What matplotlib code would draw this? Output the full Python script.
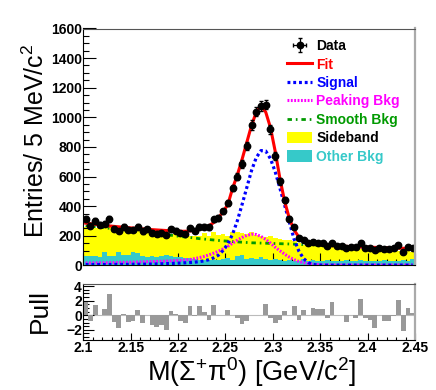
import numpy as np
import matplotlib
matplotlib.use('Agg')
import matplotlib.pyplot as plt
from matplotlib.lines import Line2D
from matplotlib.patches import Patch
from matplotlib.ticker import MultipleLocator

plt.rcParams['font.family'] = ['Liberation Sans', 'DejaVu Sans']
plt.rcParams['mathtext.fontset'] = 'custom'
plt.rcParams['mathtext.rm'] = 'Liberation Sans'
plt.rcParams['mathtext.it'] = 'Liberation Sans:italic'
plt.rcParams['mathtext.bf'] = 'Liberation Sans:bold'

# ---------------- data ----------------
x_min, x_max, n_bins = 2.10, 2.45, 70

data_counts = [315, 268, 300, 273, 282, 313, 248, 233, 260, 240,
               239, 260, 230, 246, 221, 214, 217, 204, 242, 234,
               218, 213, 252, 234, 262, 260, 257, 312, 320, 364,
               424, 522, 600, 683, 807, 948, 1038, 1078, 1086, 918,
               739, 568, 442, 315, 258, 182, 172, 152, 158, 152,
               149, 130, 154, 131, 129, 118, 126, 121, 150, 119,
               115, 101, 120, 110, 109, 116, 139, 91, 125, 116]

fit_curve = [285, 281, 277, 273, 269, 266, 263, 260, 257, 254,
             252, 249, 246, 244, 241, 239, 237, 235, 233, 231,
             230, 230, 232, 236, 242, 252, 267, 288, 320, 362,
             410, 520, 610, 715, 830, 945, 1035, 1078, 1035, 930,
             770, 585, 430, 315, 238, 190, 163, 152, 146, 141,
             138, 135, 133, 131, 129, 128, 126, 125, 124, 123,
             122, 121, 120, 119, 118, 117, 116, 115, 114, 113]

signal_curve = [5, 5, 5, 5, 5, 5, 6, 6, 6, 6,
                7, 7, 7, 8, 8, 9, 10, 11, 12, 14,
                15, 17, 19, 21, 25, 30, 38, 50, 68, 100,
                145, 210, 300, 410, 525, 640, 728, 775, 772, 720,
                632, 520, 405, 290, 175, 95, 45, 18, 6, 2,
                1, 1, 1, 1, 1, 1, 1, 1, 1, 1,
                1, 1, 1, 1, 1, 1, 1, 1, 1, 1]

peaking_curve = [15, 16, 16, 17, 17, 18, 18, 19, 20, 20,
                 21, 22, 23, 24, 25, 26, 27, 28, 30, 32,
                 34, 36, 39, 45, 52, 60, 70, 82, 95, 110,
                 128, 150, 170, 188, 202, 210, 208, 195, 175, 150,
                 122, 98, 75, 55, 38, 26, 18, 12, 8, 5,
                 3, 2, 2, 2, 2, 2, 2, 2, 2, 2,
                 2, 2, 2, 2, 2, 2, 2, 2, 2, 2]

smooth_curve = [268, 264, 261, 257, 254, 250, 247, 244, 240, 237,
                234, 230, 227, 223, 219, 215, 211, 207, 203, 199,
                195, 191, 188, 184, 180, 177, 174, 171, 168, 165,
                163, 160, 158, 156, 154, 152, 151, 150, 149, 148,
                147, 146, 145, 144, 143, 141, 140, 138, 137, 136,
                134, 133, 132, 130, 129, 128, 127, 125, 124, 123,
                122, 121, 119, 118, 117, 116, 115, 114, 113, 112]

sideband_hist = [262, 268, 255, 260, 250, 256, 244, 248, 238, 242,
                 232, 236, 225, 230, 218, 222, 212, 215, 206, 210,
                 200, 205, 196, 200, 195, 215, 200, 222, 205, 212,
                 198, 225, 228, 218, 210, 225, 205, 200, 192, 196,
                 185, 175, 170, 172, 165, 150, 140, 135, 138, 130,
                 128, 122, 125, 118, 115, 118, 112, 114, 108, 112,
                 105, 108, 102, 106, 100, 104, 98, 102, 96, 90]

other_bkg_hist = [62, 64, 60, 58, 92, 64, 66, 92, 70, 68,
                  90, 85, 60, 58, 62, 56, 62, 70, 66, 58,
                  55, 48, 50, 45, 38, 36, 35, 38, 36, 40,
                  50, 38, 62, 68, 40, 48, 42, 55, 45, 35,
                  40, 38, 30, 35, 28, 32, 40, 30, 35, 28,
                  30, 36, 28, 32, 26, 34, 30, 28, 36, 30,
                  32, 26, 30, 38, 28, 32, 30, 35, 28, 40]

pulls = [1.8, -0.8, 1.4, 0.0, 0.8, 2.9, -0.9, -1.7, 0.2, -0.9,
         -0.8, 0.7, -1.0, 0.1, -1.3, -1.6, -1.3, -2.0, 0.6, 0.2,
         -0.8, -1.1, 1.3, -0.1, 1.3, 0.5, -0.6, 1.4, 0.0, 0.1,
         0.7, 0.1, -0.4, -1.2, -0.8, 0.1, 0.1, 0.0, 1.6, -0.4,
         -1.1, -0.7, 0.6, 0.0, 1.3, -0.6, 0.7, 0.0, 1.0, 0.9,
         0.9, -0.4, 1.8, 0.0, 0.0, -0.9, 0.0, -0.4, 2.3, -0.4,
         -0.6, -1.8, 0.0, -0.8, -0.8, -0.1, 2.1, -2.2, 1.0, 0.3]

x_ticks = [2.10, 2.15, 2.20, 2.25, 2.30, 2.35, 2.40, 2.45]
x_tick_labels = ['2.1', '2.15', '2.2', '2.25', '2.3', '2.35', '2.4', '2.45']
y_ticks = [0, 200, 400, 600, 800, 1000, 1200, 1400, 1600]
pull_ticks = [-2, 0, 2, 4]

legend_labels = ['Data', 'Fit', 'Signal', 'Peaking Bkg', 'Smooth Bkg', 'Sideband', 'Other Bkg']

# ---------------- style ----------------
c_fit = '#ff0000'
c_sig = '#0000ff'
c_peak = '#ff00ff'
c_smooth = '#009a00'
c_side = '#ffff00'
c_other = '#36c9c9'
c_pull = '#999999'

edges = np.linspace(x_min, x_max, n_bins + 1)
centers = 0.5 * (edges[:-1] + edges[1:])
data_arr = np.array(data_counts, dtype=float)

W, H = 436, 390
fig = plt.figure(figsize=(W / 100, H / 100), dpi=100)

L, R = 83.3, 415.0
ax = fig.add_axes([L / W, 1 - 265.3 / H, (R - L) / W, (265.3 - 28.5) / H])
axp = fig.add_axes([L / W, 1 - 340 / H, (R - L) / W, (340 - 284) / H])

# histograms
ax.stairs(sideband_hist, edges, fill=True, color=c_side, zorder=1)
ax.stairs(other_bkg_hist, edges, fill=True, color=c_other, zorder=2)

# curves
smooth_ls = (0, (1.6, 1.4, 0.6, 1.4))
ax.plot(centers, smooth_curve, color=c_smooth, lw=2.0,
        linestyle=smooth_ls, zorder=3)
ax.plot(centers, peaking_curve, color=c_peak, lw=2.2,
        linestyle=(0, (0.6, 0.5)), zorder=3)
ax.plot(centers, signal_curve, color=c_sig, lw=2.3,
        linestyle=(0, (0.9, 0.9)), zorder=4)
ax.plot(centers, fit_curve, color=c_fit, lw=2.2, zorder=5)

# data
eb = ax.errorbar(centers, data_arr, yerr=np.sqrt(data_arr), xerr=0,
                 fmt='o', color='black', ms=4.6, lw=0.9, capsize=1.2,
                 zorder=6)

ax.set_xlim(x_min, x_max)
ax.set_ylim(0, 1600)
ax.set_yticks(y_ticks)
ax.yaxis.set_minor_locator(MultipleLocator(50))
ax.set_xticks(x_ticks)
ax.xaxis.set_minor_locator(MultipleLocator(0.01))
ax.tick_params(axis='x', labelbottom=False)
for a in (ax, axp):
    a.tick_params(which='both', direction='in', top=False, right=False, width=0.8)
    a.tick_params(which='major', length=9)
    a.tick_params(which='minor', length=4.5)
ax.tick_params(axis='y', labelsize=10, pad=1)
for lab in ax.get_yticklabels():
    lab.set_fontweight('bold')

for a in (ax, axp):
    a.spines['left'].set_color('black')
    a.spines['bottom'].set_color('black')
    a.spines['top'].set_color('#555555')
    a.spines['right'].set_color('#aaaaaa')
    a.spines['right'].set_linewidth(1.6)
    for s in a.spines.values():
        s.set_zorder(10)

# legend
handles = [
    eb,
    Line2D([], [], color=c_fit, lw=2.2),
    Line2D([], [], color=c_sig, lw=2.3, linestyle=(0, (0.9, 0.9))),
    Line2D([], [], color=c_peak, lw=2.2, linestyle=(0, (0.6, 0.5))),
    Line2D([], [], color=c_smooth, lw=2.0, linestyle=smooth_ls),
    Patch(facecolor=c_side, edgecolor='none'),
    Patch(facecolor=c_other, edgecolor='none'),
]
label_colors = ['black', c_fit, c_sig, c_peak, c_smooth, 'black', c_other]
leg = ax.legend(handles, legend_labels, loc='upper left',
                bbox_to_anchor=((287 - L) / (R - L), 0.955),
                frameon=False, borderpad=0, borderaxespad=0,
                handlelength=1.8, handleheight=0.9, handletextpad=0.3,
                labelspacing=0.32,
                prop={'weight': 'bold', 'size': 10},
                labelcolor=label_colors)

# pull panel
axp.stairs(pulls, edges, fill=True, color=c_pull, baseline=0, zorder=2)
axp.axhline(0, color='#bbbbbb', lw=0.8, zorder=1)
axp.set_xlim(x_min, x_max)
axp.set_ylim(-3.4, 4.3)
axp.set_yticks(pull_ticks)
axp.yaxis.set_minor_locator(MultipleLocator(0.5))
axp.set_xticks(x_ticks)
axp.set_xticklabels(x_tick_labels)
axp.xaxis.set_minor_locator(MultipleLocator(0.01))
axp.tick_params(which='major', length=5)
axp.tick_params(which='minor', length=2.5)
axp.tick_params(axis='y', which='major', length=8)
axp.tick_params(axis='y', which='minor', length=4)
axp.tick_params(axis='both', labelsize=10, pad=1)
for lab in axp.get_yticklabels() + axp.get_xticklabels():
    lab.set_fontweight('bold')

# axis titles
fig.text(36 / W, 1 - 141 / H, 'Entries/ 5 MeV/c$^{2}$', rotation=90,
         ha='center', va='center', fontsize=18)
fig.text(40 / W, 1 - 311 / H, 'Pull', rotation=90,
         ha='center', va='center', fontsize=19)
fig.text(252 / W, 1 - 372 / H, 'M(Σ$^{+}$π$^{0}$) [GeV/c$^{2}$]',
         ha='center', va='center', fontsize=19.5)

fig.savefig('out.png', dpi=100)
